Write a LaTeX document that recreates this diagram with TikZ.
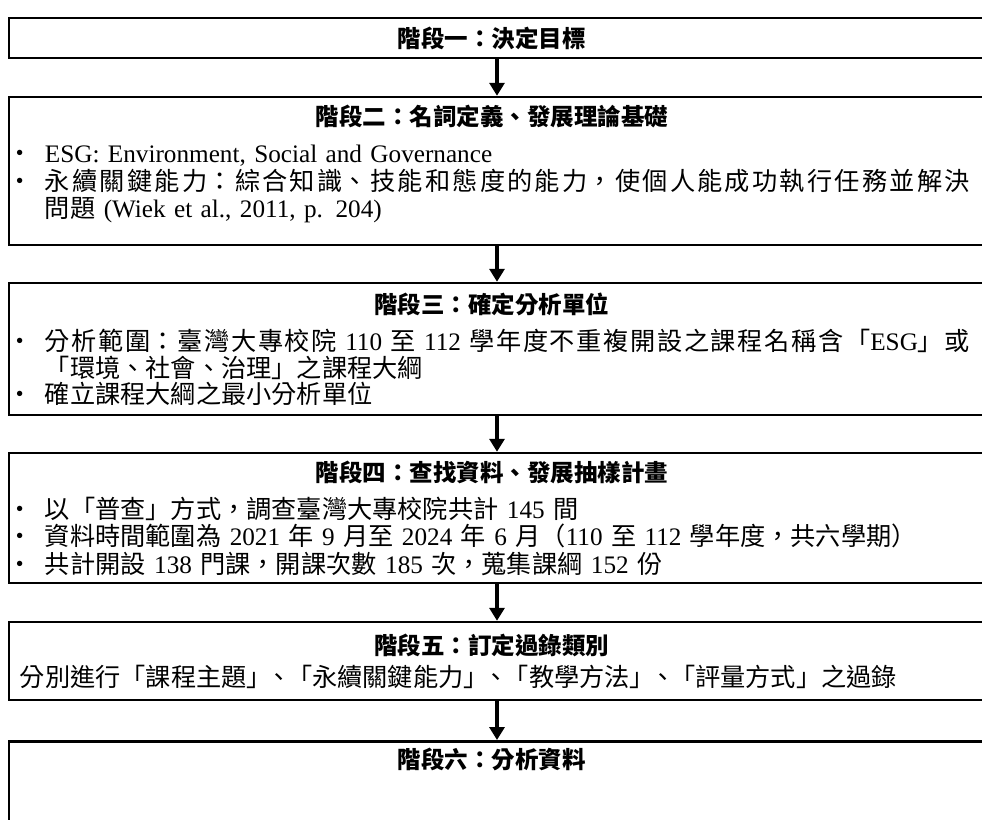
\documentclass[tikz,border=0pt]{standalone}
\usepackage{fontspec}
\setmainfont{Liberation Serif}
\newfontfamily\cjk{Noto Sans CJK TC}
\usetikzlibrary{arrows.meta,positioning}
\XeTeXlinebreaklocale "zh"
\XeTeXlinebreakskip=0pt plus 2pt minus .5pt
\newcommand{\en}[1]{{\rmfamily #1}}
\newcommand{\heading}[1]{{\leftskip=2.5pt plus 1fil\rightskip=7.5pt plus 1fil\parfillskip=0pt
  \bfseries\fontsize{11.75}{13.75}\selectfont #1\par}\vspace{4.75pt}}
\newcommand{\dotitem}[1]{\par\noindent\makebox[15.5pt][l]{\hspace{-3pt}・}\parbox[t]{462.5pt}{#1}\par}
\newcommand{\sep}{」\kern-.2em、\kern-.2em「}
\tikzset{
  stage/.style={draw=black,line width=1.25pt,rectangle,minimum width=488pt,text width=488pt,
    inner xsep=0pt,inner ysep=0pt,font=\cjk\fontsize{12.6}{13.75}\selectfont,
    execute at begin node={\parindent=0pt\leftskip=2.5pt\rightskip=7.5pt}},
  flow/.style={-{Triangle[width=7.5pt,length=6.5pt]},line width=2.2pt}
}

\begin{document}
\begin{tikzpicture}[x=0.5pt,y=-0.5pt]
\path[use as bounding box,fill=white] (0,0) rectangle (982,820);
% stages, one box each
\node (s1) [stage,minimum height=20pt] at (497,38) {\heading{階段一：決定目標}};
\node (s2) [stage,minimum height=74pt] at (497,171) {\heading{階段二：名詞定義、發展理論基礎}
\dotitem{\en{ESG: Environment, Social and Governance}}
\dotitem{永續關鍵能力：綜合知識、技能和態度的能力，使個人能成功執行任務並解決\linebreak 問題 \en{(Wiek et al., 2011, p. 204)}}
\kern7pt};
\node (s3) [stage,minimum height=66pt] at (497,349) {\heading{階段三：確定分析單位}
\dotitem{分析範圍：臺灣大專校院 \en{110} 至 \en{112} 學年度不重複開設之課程名稱含「\en{ESG}」或\linebreak 「環境、社會、治理」之課程大綱}
\dotitem{確立課程大綱之最小分析單位}};
\node (s4) [stage,minimum height=65pt] at (497,518) {\heading{階段四：查找資料、發展抽樣計畫}
\dotitem{以「普查」方式，調查臺灣大專校院共計 \en{145} 間}
\dotitem{資料時間範圍為 \en{2021} 年 \en{9} 月至 \en{2024} 年 \en{6} 月（\en{110} 至 \en{112} 學年度，共六學期）}
\dotitem{共計開設 \en{138} 門課，開課次數 \en{185} 次，蒐集課綱 \en{152} 份}};
\node (s5) [stage,minimum height=39pt] at (497,661) {\heading{階段五：訂定過錄類別}\vspace{-2.5pt}
\noindent\hspace*{3pt}分別進行「課程主題\sep 永續關鍵能力\sep 教學方法\sep 評量方式」之過錄};
\node (s6) [stage,inner ysep=3.5pt,anchor=north] at (497,740) {\heading{階段六：分析資料}\kern70pt};
%
\path[flow] (s1) edge (s2);
\path[flow] (s2) edge (s3);
\path[flow] (s3) edge (s4);
\path[flow] (s4) edge (s5);
\path[flow] (s5) edge (s6);
\end{tikzpicture}
\end{document}
